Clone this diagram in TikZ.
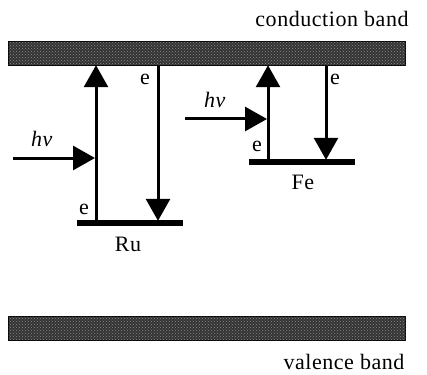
\documentclass[tikz,border=0pt]{standalone}
\usepackage{fontspec}
\setmainfont[LetterSpace=2.5]{Liberation Serif}
\usetikzlibrary{arrows.meta, positioning, patterns}

\begin{document}
\begin{tikzpicture}[x=1pt, y=-1pt,
            band/.style={draw=black, line width=1.5pt, fill=black!80, minimum width=397pt, minimum height=24pt, inner sep=0pt,
                postaction={pattern=crosshatch dots, pattern color=black!45}},
            lvl/.style={fill=black, minimum width=106pt, minimum height=6pt, inner sep=0pt},
            tr/.style={line width=3pt, -{Triangle[length=22pt, width=24pt]}, shorten >=-1pt},
            lbl/.style={font=\fontsize{22}{24}\selectfont, inner sep=0pt}]
            \useasboundingbox (0,0) rectangle (427,374);
            % bands
            \node[band] (cb) at (207,53.5)  {};
            \node[band] (vb) at (207,328.5) {};
            \node[lbl] (cbt) at (332,19)  {conduction band};
            \node[lbl] (vbt) at (344,362) {valence band};
            % metal levels
            \node[lvl] (ru) at (130,223) {};
            \node[lvl] (fe) at (302,162) {};
            \node[lbl] (rut) at (128,244) {Ru};
            \node[lbl] (fet) at (303,182) {Fe};
            % x positions of the transitions
            \coordinate (x1) at (96,0);
            \coordinate (x2) at (158,0);
            \coordinate (x3) at (268,0);
            \coordinate (x4) at (326,0);
            \draw[tr] (ru.north -| x1) -- (cb.south -| x1);
            \draw[tr] (cb.south -| x2) -- (ru.north -| x2);
            \draw[tr] (fe.north -| x3) -- (cb.south -| x3);
            \draw[tr] (cb.south -| x4) -- (fe.north -| x4);
            % light
            \coordinate (l1) at (13,158);
            \coordinate (l2) at (185,119);
            \draw[tr, shorten >=1pt] (l1) -- (l1 -| x1);
            \draw[tr, shorten >=1pt] (l2) -- (l2 -| x3);
            \node[lbl] (hv1) at (42,139) {\textit{hv}};
            \node[lbl] (hv2) at (215,100) {\textit{hv}};
            % electrons
            \node[lbl] (e1) at (84,209)  {e};
            \node[lbl] (e2) at (145,79)  {e};
            \node[lbl] (e3) at (257,146) {e};
            \node[lbl] (e4) at (335,79)  {e};
        \end{tikzpicture}
\end{document}
